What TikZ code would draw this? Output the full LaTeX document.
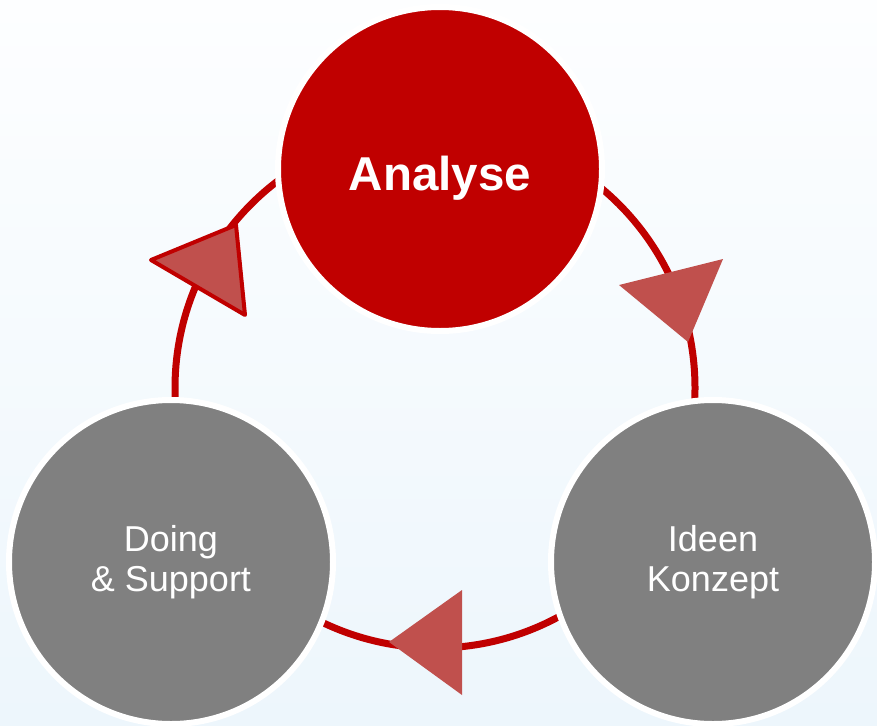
\documentclass[tikz,border=0pt]{standalone}
\usepackage{fontspec}
\setmainfont{Liberation Sans}
\usepackage{tikz}
\usetikzlibrary{positioning}

\definecolor{redA}{RGB}{192,0,0}
\definecolor{redB}{RGB}{192,80,77}
\definecolor{greyA}{RGB}{128,128,128}
\definecolor{bgtop}{RGB}{253,254,255}
\definecolor{bgbot}{RGB}{237,246,252}

\tikzset{
  bubble/.style={circle,minimum size=324pt,inner sep=0pt,draw=white,line width=6pt,text=white,align=center},
  ring/.style={draw=redA,line width=7pt},
  tip/.style={fill=redB},
  phasetext/.style={font=\fontsize{36}{40}\selectfont}
}

\begin{document}
\begin{tikzpicture}[x=1pt,y=-1pt]
	\useasboundingbox (0,0) rectangle (877,725);
	\shade[top color=bgtop,bottom color=bgbot] (0,0) rectangle (877,725);
	% cycle
	\coordinate (mid) at (435,388);
	\draw[ring] (mid) circle[radius=260pt];
	\draw[tip,draw=redA,line width=4pt,line join=round] (151,260) -- (236,225) -- (245,315) -- cycle;
	\fill[tip] (619,285) -- (723,259) -- (688,342) -- cycle;
	\fill[tip] (389,642) -- (462,590) -- (462,695) -- cycle;
	% phases
	\node[bubble,fill=redA] (analyse) at (440,169) {};
	\node[text=white,anchor=base,font=\fontsize{47.5}{57}\selectfont\bfseries] (analysetext) at (440,190) {Analyse};
	\node[bubble,fill=greyA,phasetext] (doing) at (171,562) {Doing\\\& Support};
	\node[bubble,fill=greyA,phasetext] (ideen) at (713,562) {Ideen\\Konzept};
\end{tikzpicture}
\end{document}
